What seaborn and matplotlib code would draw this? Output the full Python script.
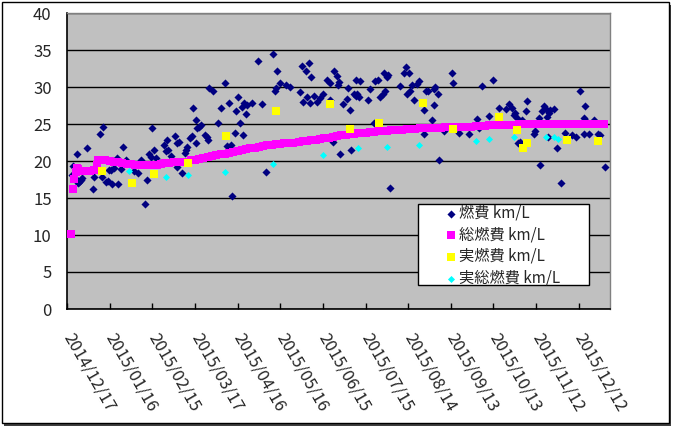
import numpy as np
import pandas as pd
import matplotlib
matplotlib.use('Agg')
import matplotlib.pyplot as plt
import matplotlib.dates as mdates
from matplotlib.patches import Rectangle
import seaborn as sns

sns.set_theme(style='white')
plt.rcParams['font.family'] = ['Noto Sans CJK JP', 'DejaVu Sans']

START = pd.Timestamp('2014-12-17')

# 燃費 km/L  (days after 2014/12/17, value)
fuel_days = [3.7, 4.4, 4.9, 5.6, 7.2, 7.9, 8.4, 9.6, 10.3, 14.3, 18.5, 19.0, 23.2, 24.4, 25.5,
             27.2, 29.0, 29.5, 30.9, 31.8, 33.0, 35.4, 36.1, 37.8, 39.6, 41.3, 47.1, 49.9, 51.8,
             54.8, 56.5, 57.6, 58.8, 60.0, 61.2, 62.4, 65.4, 68.2, 69.4, 70.5, 71.2, 72.9, 75.9,
             77.1, 77.6, 78.7, 81.1, 82.7, 83.4, 84.6, 86.5, 88.1, 88.3, 90.5, 90.9, 91.6, 92.8,
             94.4, 96.8, 98.2, 99.3, 99.8, 102.8, 106.4, 108.5, 111.1, 112.7, 113.9, 115.5, 116.2,
             118.1, 119.0, 120.4, 121.6, 123.2, 124.0, 124.4, 125.6, 126.3, 130.3, 134.5, 137.3,
             140.1, 145.0, 146.2, 147.1, 147.8, 149.7, 154.4, 156.6, 163.8, 165.4, 166.1, 167.8,
             168.9, 170.3, 171.3, 171.7, 173.6, 176.0, 178.3, 180.2, 183.0, 184.9, 185.2, 187.2,
             187.7, 189.6, 190.7, 191.6, 192.2, 194.2, 197.0, 197.8, 199.0, 199.9, 201.8, 203.0,
             203.2, 204.1, 205.3, 206.0, 211.8, 213.0, 215.8, 217.0, 218.8, 220.5, 222.4, 223.3,
             224.0, 225.2, 225.9, 227.5, 234.1, 236.9, 238.8, 239.2, 240.4, 241.1, 242.7, 243.9,
             246.3, 247.5, 251.0, 251.2, 252.9, 253.8, 256.8, 258.0, 258.5, 259.2, 260.8, 261.5,
             265.5, 270.9, 271.6, 275.6, 282.6, 288.4, 289.6, 292.0, 296.7, 299.7, 303.7, 309.1,
             310.7, 313.0, 314.2, 315.4, 316.6, 317.3, 319.0, 320.1, 320.5, 322.9, 323.6, 328.3,
             329.5, 331.8, 332.5, 334.1, 335.3, 337.0, 337.6, 338.3, 338.8, 340.0, 342.8, 344.7,
             347.8, 350.6, 355.2, 358.3, 361.1, 363.4, 363.8, 364.6, 365.3, 366.9, 370.5, 373.3,
             374.7, 378.7]
fuel_vals = [18.1, 19.3, 18.3, 17.7, 21.0, 17.0, 17.1, 17.4, 17.7, 21.7, 16.2, 17.9, 23.7, 17.9, 24.55,
             17.1, 17.35, 18.8, 18.8, 16.9, 19.0, 20.4, 16.85, 18.9, 21.85, 20.1, 18.7, 18.4, 20.1,
             14.15, 17.5, 21.0, 20.6, 24.4, 21.5, 20.4, 19.7, 22.2, 21.3, 22.9, 21.5, 20.7, 23.4,
             22.4, 19.2, 22.6, 18.4, 21.1, 21.5, 21.9, 23.1, 23.4, 27.1, 22.5, 25.5, 24.4, 24.6,
             24.8, 23.5, 23.2, 22.9, 29.8, 29.5, 25.2, 27.1, 30.5, 22.0, 27.9, 22.2, 15.3,
             23.8, 26.7, 28.6, 25.2, 27.3, 23.5, 27.9, 26.4, 27.6, 27.8, 33.55, 27.7,
             18.55, 34.4, 29.5, 29.8, 32.1, 30.5, 30.3, 30.05, 29.3, 32.8, 28.0, 32.1,
             28.7, 33.2, 27.8, 31.4, 28.8, 28.0, 28.5, 29.1, 31.0, 30.5, 28.3, 22.6,
             32.2, 31.5, 30.3, 30.7, 20.9, 27.7, 28.4, 29.9, 26.9, 21.5, 29.05, 31.0,
             28.8, 29.1, 28.7, 30.85, 28.3, 29.7, 25.2, 30.8, 31.0, 28.6, 29.1, 31.85,
             29.4, 31.3, 31.6, 16.3, 30.1, 31.9, 32.7, 29.1, 31.85, 29.4, 30.3, 28.3,
             30.4, 30.85, 26.9, 23.6, 29.4, 29.5, 25.6, 27.6, 29.7, 30.05, 29.1, 20.2,
             24.0, 31.85, 30.6, 23.8, 23.6, 25.7, 24.4, 30.2, 26.1, 30.9, 27.1, 27.0,
             27.7, 27.1, 26.2, 26.5, 25.85, 22.4, 22.6, 25.6, 22.2, 26.8, 28.1, 23.7,
             24.0, 25.85, 19.4, 26.7, 27.4, 27.0, 26.0, 23.3, 26.45, 26.9, 27.0, 21.7,
             17.0, 23.8, 23.5, 23.3, 29.5, 23.7, 25.8, 27.5, 25.4, 23.7, 25.5, 23.7,
             23.5, 19.2]

# 総燃費 km/L (running total)
total_days = [3, 4, 5, 6, 7, 8, 10, 13, 16, 19, 21, 22, 24, 27, 30, 33, 36, 39, 42, 45, 48, 51,
              54, 57, 60, 63, 66, 69, 72, 75, 78, 81, 84, 87, 90, 93, 96, 99, 102, 105, 108, 111,
              114, 117, 120, 123, 126, 129, 132, 135, 138, 141, 144, 147, 150, 153, 156, 159,
              163, 166, 169, 172, 175, 178, 181, 184, 187, 190, 193, 196, 199, 202, 205, 207,
              210, 213, 216, 219, 222, 225, 228, 233, 236, 239, 242, 245, 248, 251, 254, 257,
              260, 263, 266, 269, 272, 275, 277, 281, 284, 288, 291, 294, 297, 300, 303, 306,
              309, 312, 315, 318, 321, 324, 327, 330, 333, 336, 339, 342, 345, 348, 351, 354,
              357, 360, 363, 366, 369, 372, 375, 378]
total_vals = [10.2, 16.2, 17.6, 18.5, 19.1, 18.9, 18.7, 18.7, 18.7, 18.8, 19.5, 20.1, 20.2, 20.1,
              20.0, 19.9, 19.8, 19.7, 19.6, 19.6, 19.5, 19.5, 19.4, 19.4, 19.5, 19.5, 19.6, 19.7,
              19.7, 19.8, 19.8, 19.9, 19.9, 20.1, 20.2, 20.3, 20.4, 20.5, 20.7, 20.8, 20.9, 21.0,
              21.1, 21.2, 21.3, 21.5, 21.6, 21.7, 21.8, 21.9, 22.0, 22.1, 22.2, 22.3, 22.35, 22.4,
              22.45, 22.5, 22.6, 22.7, 22.75, 22.8, 22.9, 23.0, 23.05, 23.15, 23.25, 23.35, 23.45,
              23.55, 23.6, 23.7, 23.75, 23.8, 23.85, 23.9, 23.95, 24.0, 24.05, 24.1, 24.15, 24.2,
              24.25, 24.3, 24.3, 24.35, 24.4, 24.45, 24.45, 24.5, 24.5, 24.5, 24.55, 24.55, 24.55,
              24.6, 24.6, 24.6, 24.65, 24.7, 24.7, 24.75, 24.8, 24.8, 24.85, 24.85, 24.9, 24.9,
              24.9, 24.95, 24.95, 25.0, 25.0, 25.0, 25.0, 25.0, 25.0, 25.0, 25.0, 25.0, 25.0,
              25.0, 25.0, 25.0, 25.0, 25.0, 25.0, 25.0, 25.0, 25.0]

# 実燃費 km/L
real_days = [24.8, 45.5, 61.4, 85.1, 112.0, 147.1, 184.9, 199.0, 219.8, 250.5, 271.6, 303.7,
             316.6, 320.8, 323.6, 351.7, 373.5]
real_vals = [18.6, 17.05, 18.3, 19.7, 23.35, 26.8, 27.7, 24.3, 25.2, 27.9, 24.3, 25.9,
             24.2, 21.7, 22.4, 22.9, 22.75]

# 実総燃費 km/L
realtotal_days = [43.8, 69.8, 85.1, 111.1, 145.0, 180.0, 204.6, 225.2, 247.9, 288.0, 296.7,
                  314.2, 337.0, 342.4, 345.4]
realtotal_vals = [18.65, 17.9, 18.1, 18.5, 19.55, 20.8, 21.7, 21.9, 22.2, 22.75, 23.0,
                  23.2, 23.2, 23.2, 23.0]

tick_dates = pd.date_range('2014-12-17', periods=13, freq='30D')


def to_dates(days):
    return START + pd.to_timedelta(days, unit='D')


fig = plt.figure(figsize=(6.74, 4.29), dpi=100)
ax = fig.add_axes([67 / 674, 1 - 309 / 429, 543 / 674, 296 / 429])
ax.set_facecolor('#C0C0C0')

sns.scatterplot(x=to_dates(fuel_days), y=fuel_vals, marker='D', s=17, color='#000080',
                linewidth=0, label='燃費 km/L', ax=ax, zorder=3)
sns.scatterplot(x=to_dates(total_days), y=total_vals, marker='s', s=30, color='#FF00FF',
                linewidth=0, label='総燃費 km/L', ax=ax, zorder=4)
sns.scatterplot(x=to_dates(real_days), y=real_vals, marker='s', s=32, color='#FFFF00',
                linewidth=0, label='実燃費 km/L', ax=ax, zorder=5)
sns.scatterplot(x=to_dates(realtotal_days), y=realtotal_vals, marker='D', s=13, color='#00FFFF',
                linewidth=0, label='実総燃費 km/L', ax=ax, zorder=6)

ax.set_ylim(0, 40)
ax.set_yticks(np.arange(0, 41, 5))
ax.set_xlim(START, START + pd.Timedelta(days=382))
ax.set_xticks(tick_dates)
ax.xaxis.set_major_formatter(mdates.DateFormatter('%Y/%m/%d'))
ax.yaxis.grid(True, color='black', linewidth=1)
ax.set_axisbelow(True)
ax.set_xlabel('')
ax.set_ylabel('')

ax.tick_params(axis='x', direction='in', length=4, width=1, color='black', pad=18.5,
               labelsize=12, bottom=True)
ax.tick_params(axis='y', length=0, pad=11, labelsize=12)
plt.setp(ax.get_xticklabels(), rotation=-60, ha='left', va='center', rotation_mode='anchor')

for side in ['bottom', 'left']:
    ax.spines[side].set_color('black')
    ax.spines[side].set_linewidth(1.2)
for side in ['top', 'right']:
    ax.spines[side].set_color('#808080')
    ax.spines[side].set_linewidth(1)

# legend box + entries
ax.add_patch(Rectangle((0.6464, 0.0811), 0.3149, 0.2736, transform=ax.transAxes,
                       facecolor='white', edgecolor='black', linewidth=1, zorder=7))
leg = ax.legend(loc='upper left', bbox_to_anchor=(0.6974, 0.352), frameon=False,
                fontsize=11, handlelength=0.7, handletextpad=0.15, borderpad=0,
                borderaxespad=0, labelspacing=0.3, scatterpoints=1)
leg.set_zorder(8)

# outer chart frame with shadow
fig.add_artist(Rectangle((4 / 674, 3 / 429), 667 / 674, 421 / 429, transform=fig.transFigure,
                         facecolor='#404040', edgecolor='none', zorder=-2))
fig.add_artist(Rectangle((1.5 / 674, 6 / 429), 667 / 674, 421.5 / 429, transform=fig.transFigure,
                         facecolor='white', edgecolor='black', linewidth=1, zorder=-1))

fig.savefig('out.png', dpi=100)
